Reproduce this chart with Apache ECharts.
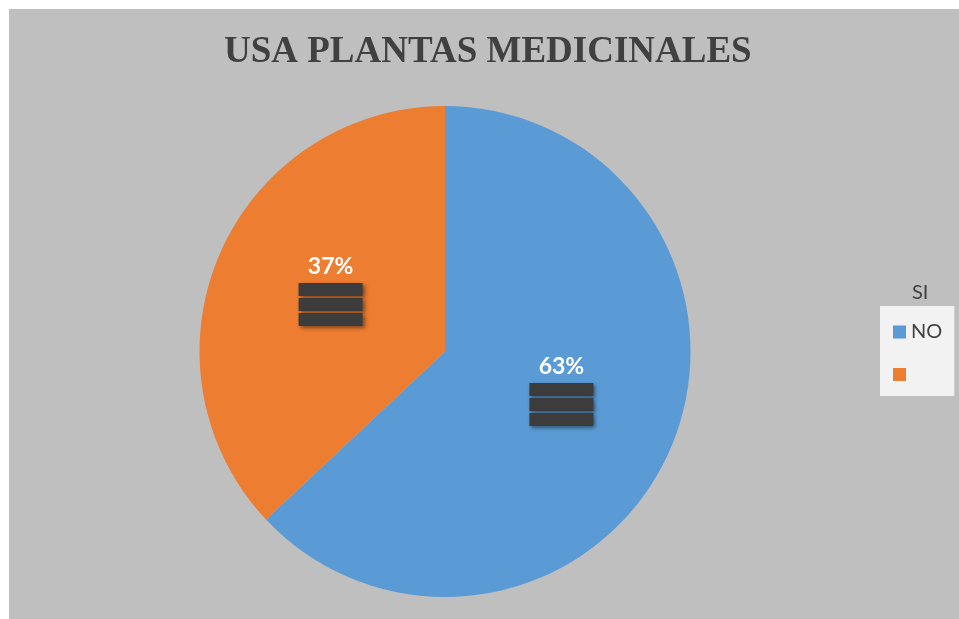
<!DOCTYPE html>
<html>
<head>
<meta charset="utf-8">
<script src="https://cdn.jsdelivr.net/npm/echarts@6/dist/echarts.min.js"></script>
<style>
  html, body { margin: 0; padding: 0; background: #ffffff; }
  #chart { position: absolute; left: 9px; top: 9px; width: 950px; height: 610px; background: #bfbfbf; }
</style>
</head>
<body>
<div id="chart"></div>
<script>
// ── Data ──────────────────────────────────────────────────────────────────────
const titleText   = 'USA PLANTAS MEDICINALES';
const legendTitle = 'SI';
const categories  = ['NO', 'SI'];
const values      = [63, 37];
const colors      = ['#5b9bd5', '#ed7d31'];

// ── Chart ─────────────────────────────────────────────────────────────────────
const chart = echarts.init(document.getElementById('chart'), null, { renderer: 'canvas' });

chart.setOption({
  backgroundColor: 'transparent',
  animation: false,
  color: colors,
  title: {
    text: titleText,
    left: 210,
    top: 20,
    textStyle: {
      fontFamily: 'Liberation Serif',
      fontWeight: 'bold',
      fontSize: 37,
      color: '#404040',
    },
  },
  legend: {
    orient: 'vertical',
    left: 871,
    top: 297,
    padding: [16, 12, 15, 13],
    backgroundColor: '#f2f2f2',
    itemWidth: 13,
    itemHeight: 13,
    itemGap: 26,
    icon: 'rect',
    data: categories,
    formatter: n => (n === 'NO' ? n : ''),
    textStyle: { fontFamily: 'Lato', fontSize: 20, color: '#404040' },
  },
  graphic: [{
    type: 'text',
    left: 903,
    top: 274,
    style: { text: legendTitle, font: '20px Lato', fill: '#404040' },
  }],
  series: [{
    name: 'usa',
    type: 'pie',
    center: [436, 342.5],
    radius: 245.5,
    startAngle: 90,
    clockwise: true,
    data: categories.map((c, i) => ({ name: c, value: values[i] })),
    label: {
      show: true,
      position: 'inside',
      offset: [1, -12],
      formatter: p => `{p|${p.value}%}\n{b|}\n{b|}\n{b|}`,
      rich: {
        p: { fontFamily: 'Lato', fontWeight: 'bold', fontSize: 23, color: '#ffffff', lineHeight: 30, align: 'center' },
        b: {
          width: 64, height: 13, lineHeight: 15,
          backgroundColor: '#3c3c3c',
          shadowColor: 'rgba(0,0,0,0.45)', shadowBlur: 4, shadowOffsetX: 2, shadowOffsetY: 2,
        },
      },
    },
    labelLine: { show: false },
    emphasis: { disabled: true },
  }],
});
</script>
</body>
</html>
